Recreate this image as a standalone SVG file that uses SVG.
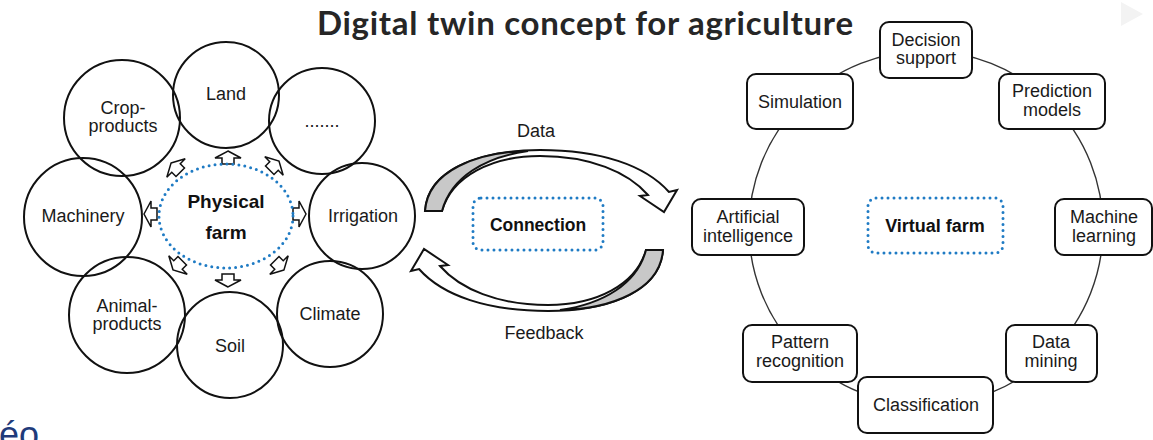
<svg xmlns="http://www.w3.org/2000/svg" xmlns:xlink="http://www.w3.org/1999/xlink" width="1153" height="440" viewBox="0 0 1153 440">
<style>
  .t{font-family:"Liberation Sans",Arial,sans-serif;font-size:18px;fill:#1a1a1a;text-anchor:middle}
  .b{font-family:"Liberation Sans",Arial,sans-serif;font-weight:bold;fill:#111;text-anchor:middle}
  .circ{fill:none;stroke:#111;stroke-width:2}
  .box{fill:#fff;stroke:#111;stroke-width:2}
  .dot{fill:none;stroke:#1f7bc4;stroke-width:3;stroke-linecap:round;stroke-dasharray:0 6}
  .ring{fill:none;stroke:#333;stroke-width:1.4}
  .sa{fill:#fff;stroke:#111;stroke-width:1.5}
  .big{fill:#fff;stroke:#111;stroke-width:2;stroke-linejoin:miter}
  .gray{fill:#c8c8c8;stroke:#111;stroke-width:2}
</style>
<defs>
  <path id="sa" d="M0,-7 L13,0 L6,0 L6,6 L-6,6 L-6,0 L-13,0 Z"/>
  <g id="bigarrow">
    <path class="big" d="M425,211 C428,165 490,150 540,150 C600,150 645,165 669,192 L677,190 L664,212 L640,196 L648,195 C628,172 590,156 540,156 C492,156 452,176 442,211 Z"/>
    <path class="gray" d="M425,211 C428,170 478,152 528,151 C485,157 451,177 442,211 Z"/>
  </g>
</defs>
<rect width="1153" height="440" fill="#fff"/>
<polygon points="1121,2 1143,14 1121,26" fill="#f3f3f3"/>
<text id="title" x="585" y="35" font-family="Lato,'Open Sans','Liberation Sans',sans-serif" font-weight="bold" font-size="33" text-anchor="middle" fill="#262626" textLength="536" lengthAdjust="spacing">Digital twin concept for agriculture</text>
<text x="-1" y="447" font-family="'Liberation Sans',Arial,sans-serif" font-size="36" fill="#1f3b7b">éo</text>

<g id="connectors">
  <circle class="ring" cx="926" cy="228" r="177"/>
  <use xlink:href="#bigarrow" href="#bigarrow"/>
  <use xlink:href="#bigarrow" href="#bigarrow" transform="rotate(180 544 230.5)"/>
  <g class="sa">
    <use href="#sa" xlink:href="#sa" transform="translate(228,158) rotate(0)"/>
    <use href="#sa" xlink:href="#sa" transform="translate(274,166) rotate(45)"/>
    <use href="#sa" xlink:href="#sa" transform="translate(299,214) rotate(90)"/>
    <use href="#sa" xlink:href="#sa" transform="translate(279,265) rotate(135)"/>
    <use href="#sa" xlink:href="#sa" transform="translate(228,280) rotate(180)"/>
    <use href="#sa" xlink:href="#sa" transform="translate(178,265) rotate(225)"/>
    <use href="#sa" xlink:href="#sa" transform="translate(151,214) rotate(270)"/>
    <use href="#sa" xlink:href="#sa" transform="translate(176,168) rotate(315)"/>
  </g>
  <text class="t" x="536" y="137">Data</text>
  <text class="t" x="544" y="339">Feedback</text>
</g>

<g id="physical-farm">
  <ellipse class="dot" cx="226" cy="216" rx="67" ry="52"/>
  <text class="b" font-size="19" x="226" y="208">Physical</text>
  <text class="b" font-size="19" x="226" y="239">farm</text>
</g>
<g id="land"><circle class="circ" cx="226" cy="95" r="53"/><text class="t" x="226" y="100">Land</text></g>
<g id="crop-products"><circle class="circ" cx="122" cy="118" r="58"/><text class="t" x="123" y="114">Crop-</text><text class="t" x="123" y="132">products</text></g>
<g id="more"><circle class="circ" cx="322" cy="121" r="53"/><text class="t" x="322" y="127">.......</text></g>
<g id="machinery"><circle class="circ" cx="83" cy="217" r="59"/><text class="t" x="83" y="222">Machinery</text></g>
<g id="irrigation"><circle class="circ" cx="362" cy="216" r="53"/><text class="t" x="363" y="222">Irrigation</text></g>
<g id="animal-products"><circle class="circ" cx="127" cy="315" r="58"/><text class="t" x="127" y="312">Animal-</text><text class="t" x="127" y="330">products</text></g>
<g id="soil"><circle class="circ" cx="230" cy="345" r="53"/><text class="t" x="230" y="352">Soil</text></g>
<g id="climate"><circle class="circ" cx="330" cy="314" r="53"/><text class="t" x="330" y="320">Climate</text></g>

<g id="connection">
  <rect class="dot" x="473" y="198" width="130" height="52" rx="8"/>
  <text class="b" font-size="17.5" x="538" y="231">Connection</text>
</g>

<g id="virtual-farm">
  <rect class="dot" x="868" y="198" width="135" height="55" rx="8"/>
  <text class="b" font-size="18" x="935" y="232">Virtual farm</text>
</g>
<g id="decision-support"><rect class="box" x="880" y="22" width="92" height="56" rx="9"/><text class="t" x="926" y="46">Decision</text><text class="t" x="926" y="64">support</text></g>
<g id="simulation"><rect class="box" x="747" y="74" width="106" height="55" rx="9"/><text class="t" x="800" y="108">Simulation</text></g>
<g id="prediction-models"><rect class="box" x="999" y="74" width="106" height="55" rx="9"/><text class="t" x="1052" y="97">Prediction</text><text class="t" x="1052" y="116">models</text></g>
<g id="artificial-intelligence"><rect class="box" x="692" y="199" width="112" height="56" rx="9"/><text class="t" x="748" y="223">Artificial</text><text class="t" x="748" y="242">intelligence</text></g>
<g id="machine-learning"><rect class="box" x="1055" y="199" width="97" height="56" rx="9"/><text class="t" x="1104" y="223">Machine</text><text class="t" x="1104" y="242">learning</text></g>
<g id="pattern-recognition"><rect class="box" x="743" y="325" width="114" height="57" rx="9"/><text class="t" x="800" y="348">Pattern</text><text class="t" x="800" y="367">recognition</text></g>
<g id="data-mining"><rect class="box" x="1006" y="325" width="91" height="57" rx="9"/><text class="t" x="1051" y="348">Data</text><text class="t" x="1051" y="367">mining</text></g>
<g id="classification"><rect class="box" x="858" y="377" width="135" height="56" rx="9"/><text class="t" x="926" y="411">Classification</text></g>
</svg>
